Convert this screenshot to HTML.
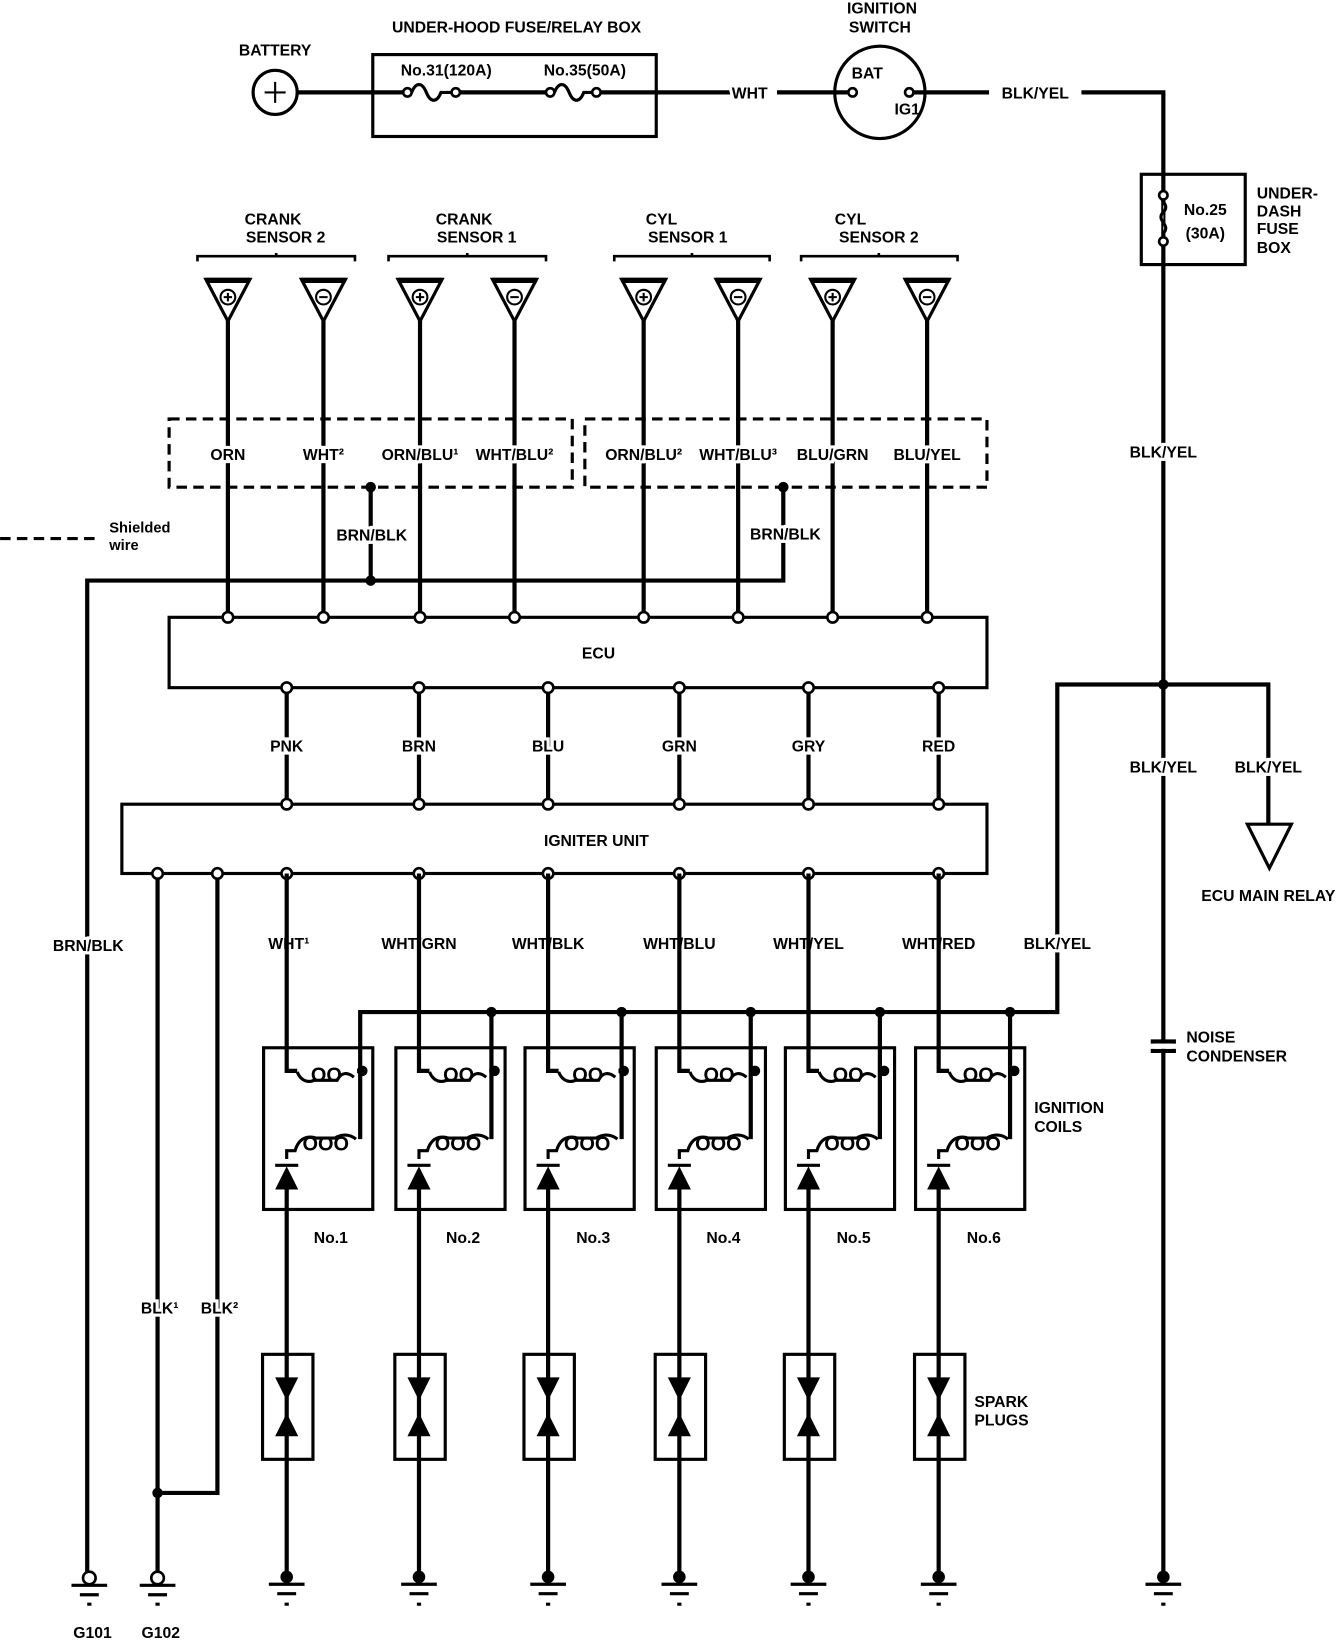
<!DOCTYPE html>
<html><head><meta charset="utf-8"><style>
html,body{margin:0;padding:0;background:#fff;}
svg{display:block}
text{font-family:"Liberation Sans",sans-serif;font-weight:bold;font-size:15px;fill:#000;}
.c{text-anchor:middle}
.bg{stroke:#fff;stroke-width:6;paint-order:stroke;}
</style></head><body>
<svg width="1344" height="1642" viewBox="0 0 1280 1564" xmlns="http://www.w3.org/2000/svg">
<g fill="none" stroke="#000" stroke-width="4">
<circle cx="262" cy="88" r="21" stroke-width="3"/>
<path d="M252 88h20M262 78v20" stroke-width="2"/>
<path d="M284 88H388M434 88H524M568 88H697M740 88H812M870 88H942M1030 88H1108V1505"/>
<rect x="355" y="52" width="270" height="78" stroke-width="3"/>
<path d="M392 88 c4 -10 10 -10 14 0 s10 10 14 0 l10 0" stroke-width="3"/>
<path d="M528 88 c4 -10 10 -10 14 0 s10 10 14 0 l8 0" stroke-width="3"/>
<ellipse cx="838" cy="88" rx="43" ry="44" stroke-width="3"/>
<rect x="1087" y="166" width="99" height="86" stroke-width="3"/>
<path d="M1108 182c-8 8 8 12 0 20s8 12 0 20" fill="#fff" stroke-width="3"/>
</g>
<g fill="#fff" stroke="#000" stroke-width="2.5">
<circle cx="388" cy="88" r="4"/><circle cx="434" cy="88" r="4"/>
<circle cx="524" cy="88" r="4"/><circle cx="568" cy="88" r="4"/>
<circle cx="812" cy="88" r="4"/><circle cx="866" cy="88" r="4"/>
<circle cx="1108" cy="186" r="4"/><circle cx="1108" cy="230" r="4"/>
</g>
<text class="c" x="262" y="53">BATTERY</text>
<text class="c" x="492" y="31">UNDER-HOOD FUSE/RELAY BOX</text>
<text class="c" x="425" y="72">No.31(120A)</text>
<text class="c" x="557" y="72">No.35(50A)</text>
<text class="c bg" x="714" y="94">WHT</text>
<text class="c" x="840" y="13">IGNITION</text>
<text class="c" x="838" y="31">SWITCH</text>
<text class="c" x="826" y="75">BAT</text>
<text class="c" x="864" y="109">IG1</text>
<text class="c" x="986" y="94">BLK/YEL</text>
<text class="c" x="1148" y="205">No.25</text>
<text class="c" x="1148" y="227">(30A)</text>
<text x="1197" y="189">UNDER-</text><text x="1197" y="206">DASH</text><text x="1197" y="223">FUSE</text><text x="1197" y="241">BOX</text>

<g fill="none" stroke="#000" stroke-width="2.5">
<path d="M188 249v-5h150v5M263 244v-3"/>
<path d="M370 249v-5h150v5M445 244v-3"/>
<path d="M585 249v-5h148v5M659 244v-3"/>
<path d="M763 249v-5h149v5M837 244v-3"/>
</g>
<text class="c" x="260" y="214">CRANK</text><text class="c" x="272" y="231">SENSOR 2</text>
<text class="c" x="442" y="214">CRANK</text><text class="c" x="454" y="231">SENSOR 1</text>
<text class="c" x="630" y="214">CYL</text><text class="c" x="655" y="231">SENSOR 1</text>
<text class="c" x="810" y="214">CYL</text><text class="c" x="837" y="231">SENSOR 2</text>

<g stroke="#000" fill="none">
<path d="M217 305V588M308 305V588M400 305V588M490 305V588M613 305V588M703 305V588M793 305V588M883 305V588" stroke-width="4"/>
</g>
<g stroke="#000" stroke-width="3" fill="#fff">
<path d="M196 266h42l-21 40z"/><path d="M287 266h42l-21 40z"/><path d="M379 266h42l-21 40z"/><path d="M469 266h42l-21 40z"/>
<path d="M592 266h42l-21 40z"/><path d="M682 266h42l-21 40z"/><path d="M772 266h42l-21 40z"/><path d="M862 266h42l-21 40z"/>
</g>
<g stroke="#000" stroke-width="5"><path d="M196 267h42M287 267h42M379 267h42M469 267h42M592 267h42M682 267h42M772 267h42M862 267h42"/></g>
<g stroke="#000" stroke-width="2" fill="#fff">
<circle cx="217" cy="283" r="7"/><circle cx="308" cy="283" r="7"/><circle cx="400" cy="283" r="7"/><circle cx="490" cy="283" r="7"/>
<circle cx="613" cy="283" r="7"/><circle cx="703" cy="283" r="7"/><circle cx="793" cy="283" r="7"/><circle cx="883" cy="283" r="7"/>
<path d="M213 283h8M217 279v8M304 283h8M396 283h8M400 279v8M486 283h8M609 283h8M613 279v8M699 283h8M789 283h8M793 279v8M879 283h8"/>
</g>

<g fill="none" stroke="#000" stroke-width="3" stroke-dasharray="10,6">
<rect x="161" y="399" width="384" height="65"/>
<rect x="557" y="399" width="383" height="65"/>
<path d="M0 513H96"/>
</g>
<g fill="none" stroke="#000" stroke-width="4">
<path d="M353 463V553M746 463V553H83V1500"/>
</g>
<g fill="#000"><circle cx="353" cy="464" r="5"/><circle cx="746" cy="464" r="5"/><circle cx="353" cy="553" r="5"/></g>
<text x="104" y="507" style="font-size:14px">Shielded</text><text x="104" y="524" style="font-size:14px">wire</text>
<text class="c bg" x="217" y="438">ORN</text>
<text class="c bg" x="308" y="438">WHT²</text>
<text class="c bg" x="400" y="438">ORN/BLU¹</text>
<text class="c bg" x="490" y="438">WHT/BLU²</text>
<text class="c bg" x="613" y="438">ORN/BLU²</text>
<text class="c bg" x="703" y="438">WHT/BLU³</text>
<text class="c bg" x="793" y="438">BLU/GRN</text>
<text class="c bg" x="883" y="438">BLU/YEL</text>
<text class="c bg" x="354" y="515">BRN/BLK</text>
<text class="c bg" x="748" y="514">BRN/BLK</text>
<text class="c bg" x="84" y="906">BRN/BLK</text>

<g fill="none" stroke="#000" stroke-width="4">
<rect x="161" y="588" width="779" height="67" stroke-width="3"/>
<rect x="116" y="766" width="824" height="66" stroke-width="3"/>
<path d="M273 655V766M399 655V766M522 655V766M647 655V766M770 655V766M894 655V766"/>
<path d="M150 832V1500M207 832V1422H150"/>
<path d="M1108 652H1007V964H343V1085M1108 652H1208V785"/>
<path d="M592 964V1085M715 964V1085M838 964V1085M962 964V1085M468 964V1085"/>
</g>
<g stroke="#000" stroke-width="2.5" fill="#fff">
<circle cx="217" cy="588" r="5"/><circle cx="308" cy="588" r="5"/><circle cx="400" cy="588" r="5"/><circle cx="490" cy="588" r="5"/>
<circle cx="613" cy="588" r="5"/><circle cx="703" cy="588" r="5"/><circle cx="793" cy="588" r="5"/><circle cx="883" cy="588" r="5"/>
<circle cx="273" cy="655" r="5"/><circle cx="399" cy="655" r="5"/><circle cx="522" cy="655" r="5"/><circle cx="647" cy="655" r="5"/><circle cx="770" cy="655" r="5"/><circle cx="894" cy="655" r="5"/>
<circle cx="273" cy="766" r="5"/><circle cx="399" cy="766" r="5"/><circle cx="522" cy="766" r="5"/><circle cx="647" cy="766" r="5"/><circle cx="770" cy="766" r="5"/><circle cx="894" cy="766" r="5"/>
<circle cx="150" cy="832" r="5"/><circle cx="207" cy="832" r="5"/><circle cx="273" cy="832" r="5"/><circle cx="399" cy="832" r="5"/><circle cx="522" cy="832" r="5"/><circle cx="647" cy="832" r="5"/><circle cx="770" cy="832" r="5"/><circle cx="894" cy="832" r="5"/>
</g>
<g fill="#000"><circle cx="1108" cy="652" r="5"/><circle cx="468" cy="964" r="5"/><circle cx="592" cy="964" r="5"/><circle cx="715" cy="964" r="5"/><circle cx="838" cy="964" r="5"/><circle cx="962" cy="964" r="5"/><circle cx="150" cy="1422" r="5"/></g>
<text class="c" x="570" y="627">ECU</text>
<text class="c" x="568" y="806">IGNITER UNIT</text>
<text class="c bg" x="273" y="716">PNK</text><text class="c bg" x="399" y="716">BRN</text><text class="c bg" x="522" y="716">BLU</text>
<text class="c bg" x="647" y="716">GRN</text><text class="c bg" x="770" y="716">GRY</text><text class="c bg" x="894" y="716">RED</text>
<text class="c bg" x="275" y="904">WHT¹</text><text class="c bg" x="399" y="904">WHT/GRN</text><text class="c bg" x="522" y="904">WHT/BLK</text>
<text class="c bg" x="647" y="904">WHT/BLU</text><text class="c bg" x="770" y="904">WHT/YEL</text><text class="c bg" x="894" y="904">WHT/RED</text>
<text class="c bg" x="1007" y="904">BLK/YEL</text>
<text class="c bg" x="1108" y="436">BLK/YEL</text>
<text class="c bg" x="1108" y="736">BLK/YEL</text><text class="c bg" x="1208" y="736">BLK/YEL</text>
<text class="c bg" x="152" y="1251">BLK¹</text><text class="c bg" x="209" y="1251">BLK²</text>
<path d="M1188 785h42l-21 42z" fill="#fff" stroke="#000" stroke-width="3"/>
<text class="c" x="1208" y="858">ECU MAIN RELAY</text>
<g stroke="#000" stroke-width="4"><path d="M1096 992h24M1096 1001h24"/></g>
<rect x="1100" y="994" width="16" height="5" fill="#fff"/>
<text x="1130" y="993">NOISE</text><text x="1130" y="1011">CONDENSER</text>

<g id="coil">
<g fill="none" stroke="#000" stroke-width="4">
<rect x="251" y="998" width="104" height="154" stroke-width="3"/>
<path d="M273 832V1020h10M340 1020h3M273 1128V1505"/>
<path d="M283 1021c4 10 12 10 16 8h22c4 -8 10 -8 16 -3" stroke-width="3"/>
<path d="M273 1104v-8h8c4 -14 14 -14 20 -12h18c6 -4 14 -4 20 1" stroke-width="3"/>
<rect x="250" y="1290" width="48" height="100" stroke-width="3"/>
</g>
<text x="296" y="1030" style="font-size:19px">OO</text>
<text x="288" y="1096" style="font-size:19px">OOO</text>
<circle cx="345" cy="1020" r="5" fill="#000"/>
<path d="M262 1110h22" stroke="#000" stroke-width="3"/>
<path d="M273 1111l-11 22h22z" fill="#000"/>
<path d="M262 1312h22l-11 22z M262 1368h22l-11 -22z" fill="#000"/>
<circle cx="273" cy="1502" r="6" fill="#000"/>
<path d="M256 1509h34M264 1518h18M271 1528h4" stroke="#000" stroke-width="3"/>
</g>
<use href="#coil" x="126"/>
<use href="#coil" x="249"/>
<use href="#coil" x="374"/>
<use href="#coil" x="497"/>
<use href="#coil" x="621"/>
<text class="c" x="315" y="1184">No.1</text><text class="c" x="441" y="1184">No.2</text><text class="c" x="565" y="1184">No.3</text>
<text class="c" x="689" y="1184">No.4</text><text class="c" x="813" y="1184">No.5</text><text class="c" x="937" y="1184">No.6</text>
<text x="985" y="1060">IGNITION</text><text x="985" y="1078">COILS</text>
<text x="928" y="1340">SPARK</text><text x="928" y="1358">PLUGS</text>

<circle cx="1108" cy="1502" r="6" fill="#000"/>
<path d="M1091 1509h34M1099 1518h18M1106 1528h4" stroke="#000" stroke-width="3"/>
<g fill="#fff" stroke="#000" stroke-width="2.5"><circle cx="85" cy="1503" r="6"/><circle cx="150" cy="1503" r="6"/></g>
<path d="M68 1510h34M76 1519h18M83 1528h4M133 1510h34M141 1519h18M148 1528h4" stroke="#000" stroke-width="3"/>
<text class="c" x="88" y="1560">G101</text><text class="c" x="153" y="1560">G102</text>
</svg>
</body></html>
